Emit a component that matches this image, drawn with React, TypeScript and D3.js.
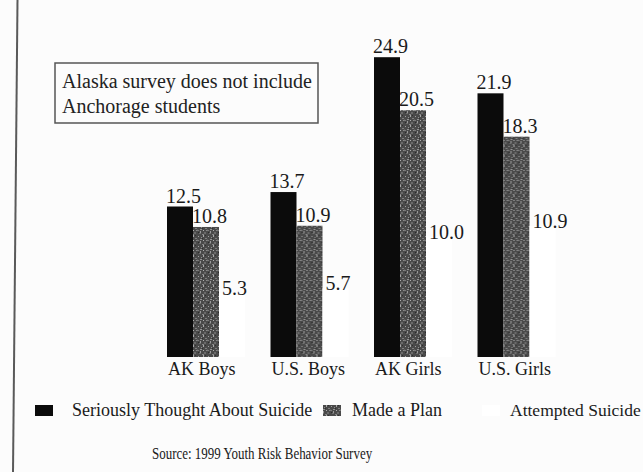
import React from "react";
import * as d3 from "d3";

const categories = ["AK Boys", "U.S. Boys", "AK Girls", "U.S. Girls"];
const seriesNames = ["Seriously Thought About Suicide", "Made a Plan", "Attempted Suicide"];
const thoughtValues = [12.5, 13.7, 24.9, 21.9];
const planValues = [10.8, 10.9, 20.5, 18.3];
const attemptValues = [5.3, 5.7, 10.0, 10.9];
const noteLines = ["Alaska survey does not include", "Anchorage students"];
const sourceText = "Source: 1999 Youth Risk Behavior Survey";

const W = 643;
const H = 472;
const FONT = "'Times New Roman', 'Liberation Serif', 'DejaVu Serif', serif";
const tStyle = { fontFamily: FONT };

export default function App() {
  const series = [thoughtValues, planValues, attemptValues];
  const fills = ["#0b0b0b", "url(#mottle)", "#ffffff"];

  const x0 = d3
    .scaleBand<string>()
    .domain(categories)
    .range([167, 555.5])
    .paddingInner(0.2464)
    .paddingOuter(0);
  const x1 = d3
    .scaleBand<number>()
    .domain([0, 1, 2])
    .range([0, x0.bandwidth()])
    .padding(0);
  const y = d3.scaleLinear().domain([0, 25]).range([357, 56]);
  const fmt = d3.format(".1f");

  const legendSwatchX = [35, 323, 482];
  const legendTextX = [72, 352, 510];

  // speckle cells for the mottled pattern (style only)
  const speckles = [
    [0, 0, 2, 1, "#7a7a7a"], [3, 1, 1, 2, "#9a9a9a"], [5, 4, 2, 1, "#858585"], [1, 6, 1, 1, "#a0a0a0"],
    [7, 2, 2, 2, "#6a6a6a"], [2, 3, 2, 1, "#707070"], [4, 7, 1, 1, "#8f8f8f"], [8, 8, 2, 1, "#7f7f7f"],
    [0, 9, 1, 1, "#5c5c5c"], [6, 5, 1, 2, "#a8a8a8"], [9, 0, 1, 1, "#8a8a8a"], [3, 9, 2, 1, "#939393"],
    [8, 5, 1, 1, "#2e2e2e"], [1, 2, 1, 1, "#2a2a2a"], [5, 8, 1, 1, "#303030"], [6, 0, 1, 1, "#b0b0b0"],
  ] as [number, number, number, number, string][];

  return (
    <svg
      width={W}
      height={H}
      style={{ position: "absolute", left: 0, top: 0, background: "#fcfcfc", fontFamily: FONT }}
    >
      <defs>
        <pattern id="mottle" width={10} height={10} patternUnits="userSpaceOnUse">
          <rect width={10} height={10} fill="#4a4a4a" />
          {speckles.map(([sx, sy, sw, sh, c], i) => (
            <rect key={i} x={sx} y={sy} width={sw} height={sh} fill={c} />
          ))}
        </pattern>
      </defs>
      <rect width={W} height={H} fill="#fcfcfc" />

      {/* left frame line */}
      <line x1={17.5} y1={0} x2={13} y2={H} stroke="#5a5a5a" strokeWidth={2} />

      {/* note box */}
      <rect x={55} y={63} width={263} height={60} fill="none" stroke="#555" strokeWidth={1.5} />
      {noteLines.map((t, i) => (
        <text key={t} x={62} y={88 + i * 25} fontSize={20} fill="#222" style={tStyle}>
          {t}
        </text>
      ))}

      {/* bars */}
      {categories.map((cat, ci) => (
        <g key={cat} transform={`translate(${x0(cat)},0)`}>
          {series.map((vals, si) => (
            <rect
              key={si}
              x={x1(si)}
              y={y(vals[ci])}
              width={x1.bandwidth()}
              height={y(0) - y(vals[ci])}
              fill={fills[si]}
            />
          ))}
          {series.map((vals, si) => (
            <text
              key={"l" + si}
              x={(x1(si) as number) + (si === 2 ? 3 : -1)}
              y={y(vals[ci]) + (si === 2 ? 2 : -4)}
              fontSize={20}
              fill="#1a1a1a"
              style={tStyle}
            >
              {fmt(vals[ci])}
            </text>
          ))}
          <text x={1} y={375} fontSize={18} fill="#1a1a1a" style={tStyle}>
            {cat}
          </text>
        </g>
      ))}

      {/* legend */}
      {seriesNames.map((name, i) => (
        <g key={name}>
          <rect x={legendSwatchX[i]} y={405} width={18} height={11} fill={fills[i]} />
          <text x={legendTextX[i]} y={416} fontSize={i === 2 ? 17.5 : 18} fill="#1a1a1a" style={tStyle}>
            {name}
          </text>
        </g>
      ))}

      {/* source */}
      <g transform="translate(152,459) scale(0.81,1)">
        <text x={0} y={0} fontSize={16} fill="#1a1a1a" style={tStyle}>
          {sourceText}
        </text>
      </g>
    </svg>
  );
}
